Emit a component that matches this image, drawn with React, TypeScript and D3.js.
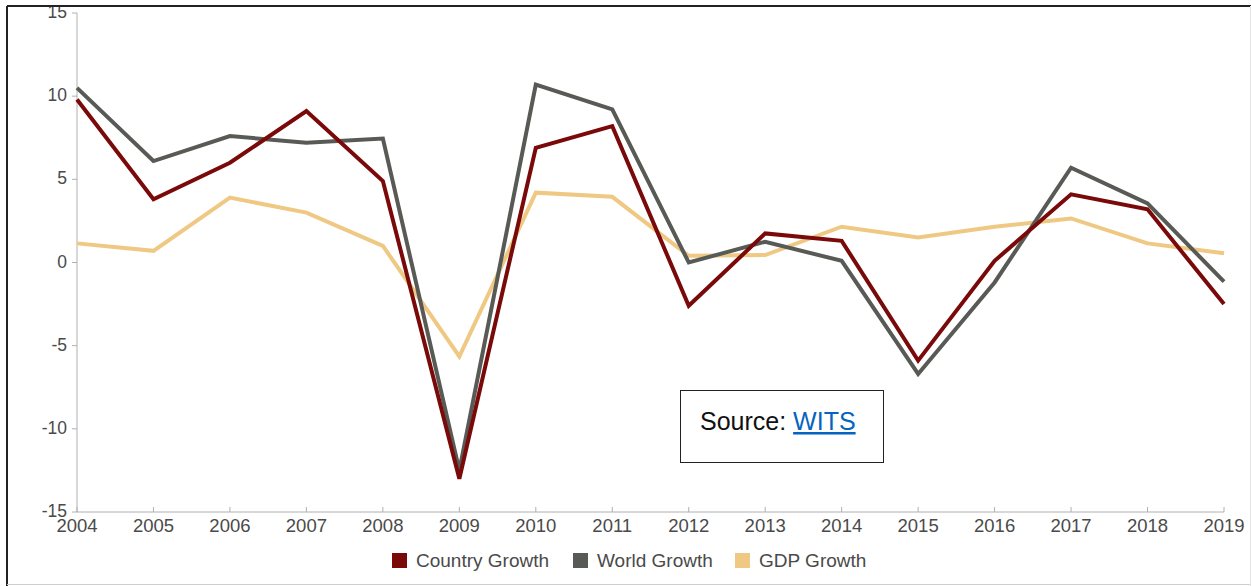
import React from 'react';
import * as d3 from 'd3';

const years = [2004, 2005, 2006, 2007, 2008, 2009, 2010, 2011, 2012, 2013, 2014, 2015, 2016, 2017, 2018, 2019];
const countryGrowth = [9.8, 3.8, 6.0, 9.1, 4.9, -13.0, 6.9, 8.2, -2.6, 1.75, 1.3, -5.9, 0.1, 4.1, 3.2, -2.5];
const worldGrowth = [10.5, 6.1, 7.6, 7.2, 7.45, -12.5, 10.7, 9.2, 0.0, 1.25, 0.1, -6.7, -1.2, 5.7, 3.55, -1.15];
const gdpGrowth = [1.15, 0.7, 3.9, 3.0, 1.0, -5.65, 4.2, 3.95, 0.4, 0.45, 2.15, 1.5, 2.15, 2.65, 1.15, 0.55];
const yTicks = [-15, -10, -5, 0, 5, 10, 15];

const W = 1251, H = 586;
const margin = { top: 13, right: 27, bottom: 74, left: 77 };
const font = "'Liberation Sans', Arial, sans-serif";

const series = [
    { name: 'Country Growth', values: countryGrowth, color: '#7a0a0a' },
    { name: 'World Growth', values: worldGrowth, color: '#585a56' },
    { name: 'GDP Growth', values: gdpGrowth, color: '#efc983' },
];
// draw order: gdp underneath
const drawOrder = [2, 1, 0];
const legendX = [392, 573, 735];

const App = () => {
    const x = d3.scaleLinear()
        .domain([years[0], years[years.length - 1]])
        .range([margin.left, W - margin.right]);
    const y = d3.scaleLinear()
        .domain([-15, 15])
        .range([H - margin.bottom, margin.top]);

    const line = d3.line<number>()
        .x((_, i) => x(years[i]))
        .y((d) => y(d));

    const axisColor = '#b0b0b0';
    const textColor = '#4a4a4a';

    return (
        <div style={{ position: 'fixed', left: 0, top: 0 }}>
            <svg width={W} height={H} style={{ display: 'block', background: '#fff' }}>
                {/* y axis */}
                <line x1={x(years[0])} x2={x(years[0])} y1={y(15)} y2={y(-15)} stroke={axisColor} />
                {yTicks.map((t) => (
                    <g key={t}>
                        <line x1={x(years[0]) - 5} x2={x(years[0])} y1={y(t)} y2={y(t)} stroke={axisColor} />
                        <text x={x(years[0]) - 10} y={y(t) - 1} dy="0.35em" textAnchor="end"
                            fontFamily={font} fontSize={17.5} fill={textColor}>{t}</text>
                    </g>
                ))}

                {/* x axis */}
                <line x1={x(years[0])} x2={x(years[years.length - 1])} y1={y(-15)} y2={y(-15)} stroke={axisColor} />
                {years.map((yr) => (
                    <g key={yr}>
                        <line x1={x(yr)} x2={x(yr)} y1={y(-15) - 5} y2={y(-15)} stroke={axisColor} />
                        <text x={x(yr)} y={y(-15) + 20} textAnchor="middle"
                            fontFamily={font} fontSize={18.5} fill={textColor}>{yr}</text>
                    </g>
                ))}

                {/* lines */}
                {drawOrder.map((i) => (
                    <path key={series[i].name} d={line(series[i].values) || ''} fill="none"
                        stroke={series[i].color} strokeWidth={4} strokeLinejoin="miter" />
                ))}

                {/* legend */}
                {series.map((s, i) => (
                    <g key={s.name}>
                        <rect x={legendX[i]} y={553} width={15} height={15} fill={s.color} />
                        <text x={legendX[i] + 24} y={567} fontFamily={font} fontSize={19} fill={textColor}>{s.name}</text>
                    </g>
                ))}

                {/* source box */}
                <rect x={680.5} y={390.5} width={203} height={72} fill="#fff" stroke="#222" strokeWidth={1} />
                <text x={700} y={430} fontFamily={font} fontSize={25} fill="#111">
                    Source: <tspan fill="#0563c1" textDecoration="underline">WITS</tspan>
                </text>

                {/* frame (clips the top tick label like the original) */}
                <rect x={0} y={0} width={W} height={6} fill="#fff" />
                <rect x={0} y={0} width={6} height={H} fill="#fff" />
                <line x1={7} y1={6} x2={W} y2={6} stroke="#222" strokeWidth={2} />
                <line x1={7} y1={6} x2={7} y2={H} stroke="#222" strokeWidth={2} />
                <line x1={7} y1={584.5} x2={W} y2={584.5} stroke="#cfcfcf" strokeWidth={1} />
                <line x1={1250.5} y1={6} x2={1250.5} y2={H} stroke="#e4e4e4" strokeWidth={1} />
            </svg>
        </div>
    );
};

export default App;
